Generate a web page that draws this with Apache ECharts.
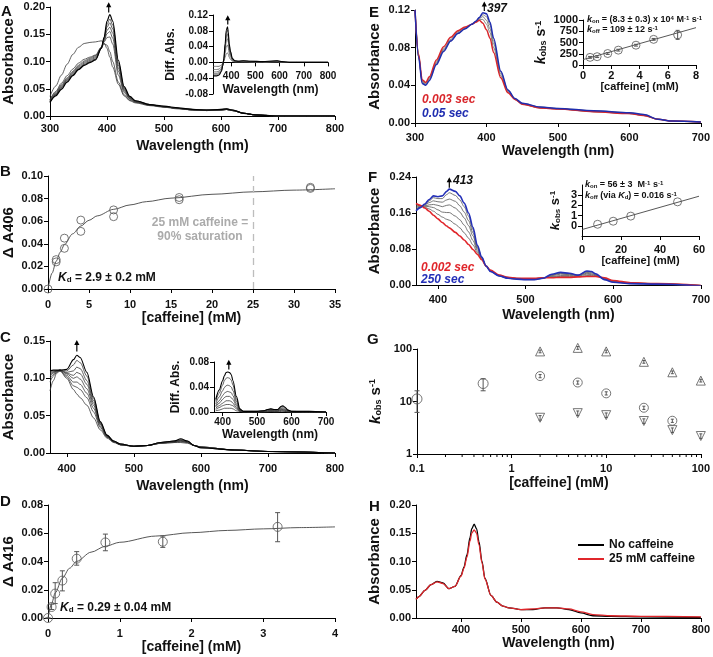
<!DOCTYPE html>
<html><head><meta charset="utf-8">
<script src="https://cdn.jsdelivr.net/npm/echarts@6/dist/echarts.min.js"></script>
<style>html,body{margin:0;padding:0;background:#fff}#c{width:713px;height:657px}</style>
</head><body><div id="c"></div>
<script>
// ---------- Panel A ----------
const wlA = [300,310,320,330,340,350,360,370,380,390,395,400,405,410,420,430,440,450,475,500,525,550,575,600,610,620,640,660,680,700,750,800];
const absA1 = [0.036,0.055,0.075,0.095,0.113,0.126,0.133,0.135,0.136,0.138,0.134,0.124,0.108,0.09,0.058,0.037,0.028,0.024,0.019,0.016,0.013,0.011,0.010,0.011,0.012,0.010,0.005,0.002,0.001,0,0,0];
const absA2 = [0.03,0.045,0.06,0.074,0.086,0.097,0.104,0.108,0.112,0.126,0.132,0.13,0.118,0.1,0.062,0.039,0.029,0.025,0.02,0.017,0.014,0.011,0.010,0.011,0.012,0.010,0.005,0.002,0.001,0,0,0];
const absA3 = [0.03,0.043,0.057,0.07,0.082,0.093,0.101,0.106,0.111,0.126,0.136,0.144,0.145,0.132,0.075,0.043,0.031,0.026,0.02,0.017,0.014,0.011,0.010,0.011,0.012,0.010,0.005,0.002,0.001,0,0,0];
const absA4 = [0.028,0.041,0.055,0.068,0.08,0.091,0.099,0.104,0.109,0.125,0.138,0.151,0.155,0.143,0.082,0.046,0.032,0.026,0.02,0.017,0.014,0.011,0.010,0.011,0.012,0.010,0.005,0.002,0.001,0,0,0];
const absA5 = [0.027,0.04,0.053,0.066,0.078,0.089,0.097,0.102,0.107,0.125,0.14,0.157,0.163,0.152,0.088,0.048,0.033,0.027,0.02,0.017,0.014,0.012,0.011,0.011,0.012,0.010,0.005,0.002,0.001,0,0,0];
const absA6 = [0.026,0.039,0.052,0.065,0.076,0.087,0.095,0.1,0.105,0.124,0.141,0.163,0.171,0.16,0.093,0.05,0.034,0.027,0.021,0.017,0.014,0.012,0.011,0.012,0.013,0.011,0.005,0.002,0.001,0,0,0];
const absA7 = [0.025,0.038,0.05,0.063,0.075,0.086,0.094,0.099,0.104,0.124,0.143,0.168,0.178,0.167,0.097,0.052,0.035,0.028,0.021,0.017,0.014,0.012,0.011,0.012,0.013,0.011,0.005,0.002,0.001,0,0,0];
const absA8 = [0.025,0.037,0.049,0.062,0.074,0.085,0.093,0.098,0.103,0.124,0.145,0.174,0.186,0.174,0.102,0.054,0.036,0.028,0.021,0.018,0.015,0.012,0.011,0.012,0.013,0.011,0.005,0.002,0.001,0,0,0];
// Panel A inset (difference spectra)
const wlAi = [325,340,350,360,365,370,375,380,385,388,392,397,405,415,430,450,480,530,590,610,640,700,800];
const difA1 = [-0.01,-0.01,-0.01,-0.007,-0.003,0.003,0.013,0.022,0.024,0.021,0.013,0.008,0.003,0.001,0.001,0.001,0.001,0,0.001,0,0,0,0];
const difA2 = [-0.018,-0.018,-0.017,-0.012,-0.005,0.005,0.024,0.04,0.044,0.038,0.024,0.014,0.005,0.002,0.002,0.002,0.001,0.001,0.002,0.001,0,0,0];
const difA3 = [-0.024,-0.024,-0.022,-0.016,-0.006,0.007,0.032,0.055,0.06,0.052,0.032,0.019,0.007,0.003,0.002,0.003,0.002,0.001,0.003,0.001,0,0,0];
const difA4 = [-0.028,-0.028,-0.026,-0.019,-0.007,0.008,0.038,0.066,0.072,0.062,0.038,0.023,0.008,0.003,0.003,0.003,0.002,0.001,0.003,0.001,0,0,0];
const difA5 = [-0.031,-0.031,-0.029,-0.021,-0.008,0.009,0.043,0.075,0.082,0.07,0.043,0.026,0.009,0.004,0.003,0.004,0.003,0.002,0.004,0.002,0,0,0];
const difA6 = [-0.034,-0.034,-0.032,-0.023,-0.009,0.01,0.047,0.082,0.09,0.077,0.047,0.028,0.01,0.004,0.003,0.004,0.003,0.002,0.004,0.002,0,0,0];

// ---------- Panel B ----------
const cafB = [0,1,1,2,2,4,4,8,8,16,16,32,32];
const dA406 = [0,0.026,0.024,0.045,0.036,0.061,0.051,0.07,0.064,0.081,0.079,0.09,0.089];
const fitBx = [0,0.5,1,1.5,2,3,4,5,6,8,10,12,15,20,25,30,35];
const fitBy = [0,0.0141,0.0246,0.0327,0.0392,0.0488,0.0557,0.0608,0.0647,0.0705,0.0744,0.0773,0.0804,0.0838,0.0860,0.0875,0.0887];

// ---------- Panel C ----------
const wlC = [375,380,385,390,400,410,415,420,430,440,450,460,470,480,500,520,540,560,570,580,590,600,650,700,800];
const absC1 = [0.083,0.097,0.107,0.11,0.1,0.085,0.079,0.074,0.064,0.047,0.031,0.02,0.014,0.011,0.009,0.01,0.013,0.014,0.014,0.013,0.01,0.008,0.004,0.002,0];
const absC2 = [0.095,0.103,0.108,0.11,0.102,0.09,0.088,0.085,0.074,0.055,0.034,0.021,0.015,0.011,0.009,0.01,0.013,0.014,0.015,0.014,0.01,0.008,0.004,0.002,0];
const absC3 = [0.1,0.105,0.109,0.11,0.104,0.095,0.095,0.092,0.08,0.06,0.036,0.022,0.015,0.011,0.009,0.01,0.013,0.015,0.016,0.014,0.01,0.008,0.004,0.002,0];
const absC4 = [0.103,0.107,0.11,0.111,0.106,0.1,0.102,0.099,0.086,0.064,0.038,0.022,0.015,0.011,0.009,0.01,0.013,0.015,0.016,0.015,0.01,0.008,0.004,0.002,0];
const absC5 = [0.105,0.108,0.11,0.111,0.107,0.104,0.108,0.106,0.092,0.067,0.039,0.023,0.015,0.012,0.009,0.01,0.014,0.015,0.017,0.015,0.01,0.008,0.004,0.002,0];
const absC6 = [0.107,0.109,0.11,0.111,0.108,0.11,0.115,0.113,0.097,0.07,0.04,0.023,0.016,0.012,0.009,0.01,0.014,0.016,0.017,0.015,0.01,0.007,0.004,0.002,0];
const absC7 = [0.109,0.11,0.11,0.111,0.11,0.118,0.124,0.121,0.103,0.073,0.041,0.024,0.016,0.012,0.009,0.01,0.014,0.016,0.018,0.016,0.01,0.007,0.004,0.002,0];
const absC8 = [0.11,0.111,0.111,0.111,0.112,0.125,0.131,0.128,0.108,0.075,0.042,0.024,0.016,0.012,0.009,0.01,0.014,0.016,0.019,0.016,0.01,0.007,0.004,0.002,0];
// Panel C inset
const wlCi = [380,390,400,405,410,415,420,425,430,440,450,460,480,500,520,530,540,550,560,570,575,580,590,600,650,700];
const difC1 = [0.002,0.003,0.005,0.006,0.006,0.006,0.006,0.006,0.005,0.002,0.001,0,0,0,0,0,0.001,0,0,0.001,0.001,0.001,0,0,0,0];
const difC2 = [0.004,0.007,0.01,0.011,0.012,0.012,0.012,0.011,0.01,0.005,0.001,0,0,0,0,0.001,0.001,0.001,0.001,0.002,0.002,0.001,0,0,0,0];
const difC3 = [0.006,0.01,0.014,0.016,0.018,0.018,0.018,0.017,0.014,0.007,0.002,0,0,0,0.001,0.001,0.002,0.001,0.001,0.003,0.003,0.002,0.001,0,0,0];
const difC4 = [0.008,0.014,0.02,0.023,0.025,0.025,0.025,0.023,0.02,0.01,0.002,0.001,0,0,0.001,0.002,0.002,0.002,0.002,0.004,0.004,0.003,0.001,0,0,0];
const difC5 = [0.01,0.018,0.026,0.03,0.032,0.033,0.032,0.031,0.026,0.013,0.003,0.001,0.001,0.001,0.001,0.003,0.003,0.003,0.003,0.005,0.005,0.004,0.002,0.001,0,0];
const difC6 = [0.013,0.024,0.034,0.039,0.042,0.043,0.042,0.04,0.034,0.017,0.003,0.001,0.001,0.001,0.002,0.003,0.004,0.003,0.003,0.006,0.007,0.005,0.002,0.001,0,0];
const difC7 = [0.017,0.03,0.043,0.05,0.054,0.055,0.054,0.051,0.043,0.021,0.004,0.001,0.001,0.001,0.002,0.004,0.005,0.004,0.004,0.008,0.009,0.007,0.003,0.001,0.001,0];
const difC8 = [0.02,0.035,0.05,0.058,0.063,0.064,0.063,0.06,0.05,0.025,0.005,0.001,0.001,0.001,0.002,0.004,0.005,0.004,0.004,0.009,0.01,0.008,0.003,0.001,0.001,0];

// ---------- Panel D ----------
const cafD = [0,0.05,0.1,0.2,0.4,0.8,1.6,3.2];
const dA416 = [0,0.0078,0.0173,0.0265,0.042,0.0535,0.054,0.0645];
const dA416lo = [0,0.006,0.0102,0.0192,0.0374,0.0476,0.05,0.054];
const dA416hi = [0,0.0098,0.025,0.0334,0.047,0.0594,0.058,0.0746];
const fitDx = [0,0.05,0.1,0.2,0.3,0.4,0.6,0.8,1,1.5,2,2.5,3,3.5,4];
const fitDy = [0,0.0102,0.0177,0.0282,0.0352,0.0401,0.0466,0.0508,0.0536,0.058,0.0604,0.062,0.0631,0.064,0.0645];

// ---------- Panel E ----------
const wlE = [300,305,310,315,320,330,340,350,360,370,380,385,390,395,400,405,410,420,430,440,450,475,500,550,600,620,640,660,700];
const absE003 = [0.12,0.073,0.046,0.043,0.049,0.067,0.081,0.091,0.098,0.102,0.105,0.107,0.109,0.106,0.099,0.09,0.075,0.048,0.032,0.025,0.02,0.016,0.015,0.012,0.01,0.008,0.004,0.002,0.001];
const absEg1 = [0.12,0.072,0.045,0.042,0.048,0.065,0.079,0.089,0.097,0.101,0.105,0.107,0.11,0.11,0.105,0.096,0.08,0.05,0.033,0.025,0.02,0.016,0.015,0.012,0.01,0.008,0.004,0.002,0.001];
const absEg2 = [0.12,0.071,0.044,0.041,0.047,0.064,0.078,0.088,0.096,0.1,0.105,0.107,0.111,0.113,0.109,0.1,0.084,0.052,0.034,0.025,0.02,0.016,0.015,0.012,0.01,0.008,0.004,0.002,0.001];
const absEg3 = [0.12,0.071,0.043,0.04,0.046,0.063,0.077,0.087,0.095,0.1,0.105,0.108,0.112,0.115,0.113,0.104,0.087,0.054,0.035,0.026,0.021,0.017,0.0155,0.013,0.011,0.009,0.004,0.002,0.001];
const absE05 = [0.12,0.07,0.042,0.04,0.045,0.062,0.076,0.087,0.095,0.1,0.105,0.108,0.112,0.117,0.116,0.107,0.09,0.055,0.035,0.026,0.021,0.017,0.0155,0.013,0.011,0.009,0.004,0.002,0.001];
// Panel E inset
const cafEi = [0.5,1,1.75,2.5,3.75,5,6.7];
const kobsEi = [170,185,255,330,440,570,670];
const kobsEiLo = [150,165,235,310,420,550,570];
const kobsEiHi = [190,205,275,350,460,590,770];
const fitEix = [0,8];
const fitEiy = [120,830];

// ---------- Panel F ----------
const wlF = [375,380,385,390,395,400,405,410,413,420,425,430,435,440,445,450,455,460,470,480,490,500,510,520,530,540,550,560,570,575,580,590,600,620,650,700];
const absF002 = [0.181,0.177,0.171,0.164,0.155,0.147,0.139,0.131,0.127,0.117,0.109,0.100,0.090,0.079,0.068,0.056,0.042,0.033,0.022,0.017,0.015,0.015,0.015,0.016,0.016,0.017,0.017,0.018,0.019,0.019,0.019,0.016,0.010,0.005,0.003,-0.001];
const absFg1 = [0.178,0.176,0.173,0.169,0.164,0.157,0.151,0.146,0.144,0.135,0.127,0.116,0.104,0.089,0.072,0.057,0.042,0.032,0.022,0.017,0.015,0.014,0.014,0.016,0.018,0.019,0.019,0.019,0.021,0.021,0.020,0.015,0.009,0.005,0.003,-0.001];
const absFg2 = [0.175,0.175,0.175,0.174,0.172,0.167,0.162,0.161,0.161,0.153,0.145,0.133,0.118,0.099,0.076,0.058,0.042,0.032,0.021,0.016,0.014,0.014,0.014,0.016,0.019,0.021,0.021,0.020,0.024,0.023,0.021,0.014,0.008,0.004,0.003,-0.001];
const absFg3 = [0.172,0.174,0.176,0.178,0.179,0.177,0.174,0.177,0.178,0.171,0.162,0.149,0.132,0.109,0.080,0.060,0.042,0.031,0.021,0.016,0.014,0.013,0.013,0.015,0.021,0.024,0.023,0.021,0.026,0.025,0.022,0.013,0.008,0.004,0.002,-0.001];
const absFg4 = [0.169,0.173,0.178,0.183,0.187,0.185,0.184,0.189,0.191,0.186,0.176,0.162,0.143,0.116,0.083,0.061,0.042,0.031,0.020,0.015,0.013,0.013,0.013,0.015,0.022,0.026,0.024,0.021,0.028,0.027,0.023,0.013,0.007,0.004,0.002,-0.002];
const absFg5 = [0.167,0.172,0.179,0.187,0.194,0.192,0.192,0.201,0.205,0.199,0.189,0.174,0.153,0.123,0.086,0.062,0.042,0.030,0.020,0.015,0.013,0.012,0.012,0.015,0.023,0.027,0.025,0.022,0.030,0.029,0.024,0.012,0.007,0.003,0.002,-0.002];
const absF250 = [0.165,0.172,0.180,0.190,0.198,0.196,0.198,0.208,0.213,0.208,0.198,0.182,0.160,0.128,0.088,0.062,0.042,0.030,0.020,0.015,0.013,0.012,0.012,0.015,0.024,0.028,0.026,0.022,0.031,0.030,0.025,0.012,0.006,0.003,0.002,-0.002];
// Panel F inset
const cafFi = [8,16,25,49];
const kobsFi = [0.15,0.45,0.95,2.35];
const fitFix = [0,60];
const fitFiy = [-0.37,2.9];

// ---------- Panel G ----------
const cafG1 = [0.1,0.5];
const kG1 = [11.2,22];
const kG1lo = [6.2,16];
const kG1hi = [16,27];
const cafGup = [2,5,10,25,50,100];
const kGup = [90,105,90,57,36,25];
const cafGmid = [2,5,10,25,50];
const kGmid = [30.5,23,14.3,7.6,4.3];
const cafGdn = [2,5,10,25,50,100];
const kGdn = [4.9,6.0,5.5,4.25,2.85,2.2];
const gMinorTicks = [0.2,0.3,0.4,0.5,0.6,0.7,0.8,0.9,2,3,4,5,6,7,8,9,20,30,40,50,60,70,80,90];

// ---------- Panel H ----------
const wlH = [325,330,340,350,360,370,380,390,400,405,410,415,418,422,426,430,435,440,450,460,470,480,500,520,540,560,580,600,620,650,700,800];
const absHno = [0.033,0.038,0.049,0.059,0.065,0.062,0.052,0.056,0.075,0.09,0.112,0.142,0.158,0.166,0.158,0.135,0.1,0.07,0.04,0.028,0.021,0.018,0.015,0.015,0.018,0.018,0.015,0.009,0.004,0.003,0.002,0.001];
const absH25 = [0.033,0.038,0.049,0.059,0.064,0.061,0.052,0.056,0.074,0.088,0.108,0.136,0.15,0.156,0.15,0.13,0.098,0.069,0.04,0.028,0.021,0.018,0.015,0.016,0.018,0.018,0.016,0.011,0.006,0.004,0.003,0.002];

// ================= chart =================
const FONT = '"Liberation Sans", Arial, sans-serif';
const chart = echarts.init(document.getElementById('c'), null, {renderer:'canvas'});
const zip = (xs, ys) => xs.map((x, i) => [x, ys[i]]);

const grids = [
  {left:47, top:7, width:288, height:109},    //0 A
  {left:213, top:15, width:115, height:79},   //1 A inset
  {left:47, top:176, width:288, height:113},  //2 B
  {left:47, top:341, width:288, height:112},  //3 C
  {left:214, top:362, width:112, height:50},  //4 C inset
  {left:47, top:505, width:288, height:113},  //5 D
  {left:415, top:10, width:288, height:113},  //6 E
  {left:583, top:20, width:113, height:45},   //7 E inset
  {left:416, top:177, width:287, height:108}, //8 F
  {left:582, top:185, width:117, height:51},  //9 F inset
  {left:417, top:349, width:286, height:105}, //10 G
  {left:416, top:505, width:287, height:113}  //11 H
];

const kRich = (fs) => ({
  k:{fontStyle:'italic', fontWeight:'bold', fontSize:fs, fontFamily:FONT, color:'#111'},
  n:{fontWeight:'bold', fontSize:fs, fontFamily:FONT, color:'#111'},
  sub:{fontWeight:'bold', fontSize:Math.round(fs*0.62), fontFamily:FONT, color:'#111', verticalAlign:'bottom'},
  sup:{fontWeight:'bold', fontSize:Math.round(fs*0.62), fontFamily:FONT, color:'#111', verticalAlign:'top'}
});

function axis(g, o) {
  const lf = o.lf || 11, nf = o.nf || 14;
  const ax = {
    type: o.type || 'value', gridIndex: g, min: o.min, max: o.max,
    name: o.name, nameLocation: 'middle', nameGap: o.gap,
    nameTextStyle: {fontFamily: FONT, fontWeight: 'bold', fontSize: nf, color: '#111', rich: o.rich},
    axisLine: {show: true, onZero: false, lineStyle: {color: '#000', width: 1}},
    axisTick: {show: true, length: o.tl || 4, lineStyle: {color: '#000', width: 1}},
    axisLabel: {fontFamily: FONT, fontWeight: 'bold', fontSize: lf, color: '#111', margin: o.margin || 5,
      formatter: o.fmt},
    splitLine: {show: false}
  };
  if (o.offset !== undefined) ax.offset = o.offset;
  if (o.interval !== undefined) ax.interval = o.interval;
  if (o.custom) { ax.axisLabel.customValues = o.custom; ax.axisTick.customValues = o.custom; }
  if (o.type === 'log') { ax.logBase = 10; }
  return ax;
}
const f2 = v => v.toFixed(2);
const fi = v => String(v);

const xAxes = [
  axis(0, {min:300, max:800, interval:100, name:'Wavelength (nm)', gap:23, margin:7}),
  axis(1, {min:325, max:800, custom:[400,500,600,700,800], name:'Wavelength (nm)', gap:21, margin:9, lf:10, nf:12, offset:-31.6}),
  axis(2, {min:0, max:35, interval:5, name:'[caffeine] (mM)', gap:19, margin:10}),
  axis(3, {min:375, max:800, custom:[400,500,600,700,800], name:'Wavelength (nm)', gap:26, margin:10}),
  axis(4, {min:375, max:700, custom:[400,500,600,700], name:'Wavelength (nm)', gap:17, lf:10, nf:12}),
  axis(5, {min:0, max:4, interval:1, name:'[caffeine] (mM)', gap:21, margin:10}),
  axis(6, {min:300, max:700, interval:100, name:'Wavelength (nm)', gap:20, margin:9}),
  axis(7, {min:0, max:8, interval:2, name:'[caffeine] (mM)', gap:14, lf:11, nf:11}),
  axis(8, {min:375, max:700, custom:[400,500,600,700], name:'Wavelength (nm)', gap:23, margin:9}),
  axis(9, {min:0, max:60, interval:20, name:'[caffeine] (mM)', gap:18, margin:8, lf:11, nf:11}),
  axis(10, {type:'log', min:0.1, max:100, name:'[caffeine] (mM)', gap:22, margin:9, fmt:fi}),
  axis(11, {min:325, max:800, custom:[400,500,600,700,800], name:'Wavelength (nm)', gap:15, margin:6})
];
const yAxes = [
  axis(0, {min:0, max:0.2, interval:0.05, fmt:f2, name:'Absorbance', gap:34, nf:15}),
  axis(1, {min:-0.08, max:0.12, interval:0.04, fmt:f2, name:'Diff. Abs.', gap:36, lf:10, nf:12}),
  axis(2, {min:0, max:0.1, interval:0.02, fmt:f2, name:'Δ A406', gap:32, nf:15}),
  axis(3, {min:0, max:0.15, interval:0.05, fmt:f2, name:'Absorbance', gap:34, nf:15}),
  axis(4, {min:0, max:0.08, interval:0.04, fmt:f2, name:'Diff. Abs.', gap:32, lf:10, nf:12}),
  axis(5, {min:0, max:0.08, interval:0.02, fmt:f2, name:'Δ A416', gap:32, nf:15}),
  axis(6, {min:0, max:0.12, interval:0.04, fmt:f2, name:'Absorbance', gap:33, nf:15}),
  axis(7, {min:0, max:1000, interval:250, fmt:fi, name:'{k|k}{sub|obs}{n| s}{sup|-1}', gap:35, lf:11, rich:kRich(14)}),
  axis(8, {min:0, max:0.24, interval:0.08, fmt:f2, name:'Absorbance', gap:34, nf:15}),
  axis(9, {min:-1, max:4, interval:1, fmt:fi, name:'{k|k}{sub|obs}{n| s}{sup|-1}', gap:20, lf:11, rich:kRich(13)}),
  axis(10, {type:'log', min:1, max:100, name:'{k|k}{sub|obs}{n| s}{sup|-1}', gap:34, fmt:fi, rich:kRich(15)}),
  axis(11, {min:0, max:0.2, interval:0.05, fmt:f2, name:'Absorbance', gap:34, nf:15})
];

const series = [];
function line(g, xs, ys, color, width, extra) {
  series.push(Object.assign({type:'line', xAxisIndex:g, yAxisIndex:g, data:zip(xs, ys), symbol:'none',
    smooth:0.3, smoothMonotone:'x', lineStyle:{color, width}, itemStyle:{color}, silent:true, animation:false, z:2}, extra || {}));
}
function scatter(g, xs, ys, symbol, size, extra) {
  series.push(Object.assign({type:'scatter', xAxisIndex:g, yAxisIndex:g, data:zip(xs, ys), symbol, symbolSize:size, clip:false,
    itemStyle:{color:'rgba(0,0,0,0)', borderColor:'#555', borderWidth:1}, silent:true, animation:false, z:4}, extra || {}));
}
function errbars(g, xs, lo, hi, color, cap) {
  series.push({type:'custom', xAxisIndex:g, yAxisIndex:g, silent:true, animation:false, z:3, clip:false,
    data: xs.map((x, i) => [x, lo[i], hi[i]]),
    encode:{x:0, y:[1,2]},
    renderItem:(params, api) => {
      const x = api.value(0), a = api.coord([x, api.value(1)]), b = api.coord([x, api.value(2)]);
      const w = cap, st = {stroke:color, lineWidth:1};
      return {type:'group', children:[
        {type:'line', shape:{x1:a[0], y1:a[1], x2:b[0], y2:b[1]}, style:st},
        {type:'line', shape:{x1:a[0]-w, y1:a[1], x2:a[0]+w, y2:a[1]}, style:st},
        {type:'line', shape:{x1:b[0]-w, y1:b[1], x2:b[0]+w, y2:b[1]}, style:st}
      ]};
    }});
}

// A
[absA1,absA2,absA3,absA4,absA5,absA6,absA7].forEach(d => line(0, wlA, d, '#3a3a3a', 0.8));
line(0, wlA, absA8, '#000', 1.2);
[difA1,difA2,difA3,difA4,difA5].forEach(d => line(1, wlAi, d, '#555', 0.8));
line(1, wlAi, difA6, '#000', 1.1);
// B
line(2, fitBx, fitBy, '#444', 0.9, {markLine:{silent:true, symbol:'none', animation:false,
  label:{show:false}, lineStyle:{type:[7,5], color:'#bdbdbd', width:1.3},
  data:[[{coord:[25,0]},{coord:[25,0.1]}]]}});
scatter(2, cafB, dA406, 'circle', 8);
// C
[absC1,absC2,absC3,absC4,absC5,absC6,absC7].forEach(d => line(3, wlC, d, '#3a3a3a', 0.8));
line(3, wlC, absC8, '#000', 1.1);
[difC1,difC2,difC3,difC4,difC5,difC6,difC7].forEach(d => line(4, wlCi, d, '#3a3a3a', 0.8));
line(4, wlCi, difC8, '#000', 1.1);
// D
line(5, fitDx, fitDy, '#444', 0.9);
errbars(5, cafD, dA416lo, dA416hi, '#555', 2.5);
scatter(5, cafD, dA416, 'circle', 9);
// E
line(6, wlE, absE003, '#d9262b', 1.5, {z:3});
[absEg1,absEg2,absEg3].forEach(d => line(6, wlE, d, '#777', 0.9));
line(6, wlE, absE05, '#1f2db0', 1.5, {z:4});
line(7, fitEix, fitEiy, '#444', 0.9, {smooth:false});
errbars(7, cafEi, kobsEiLo, kobsEiHi, '#555', 2);
scatter(7, cafEi, kobsEi, 'circle', 8);
// F
line(8, wlF, absF002, '#e0262b', 1.6, {z:3});
[absFg1,absFg2,absFg3,absFg4,absFg5].forEach(d => line(8, wlF, d, '#666', 0.9));
line(8, wlF, absF250, '#2430b8', 1.6, {z:4});
line(9, fitFix, fitFiy, '#444', 0.9, {smooth:false});
scatter(9, cafFi, kobsFi, 'circle', 8);
// G
series.push({type:'custom', xAxisIndex:10, yAxisIndex:10, silent:true, animation:false, clip:false, z:5,
  data: gMinorTicks.map(v => [v, 1]), encode:{x:0, y:1},
  renderItem:(params, api) => {
    const c = api.coord([api.value(0), api.value(1)]);
    return {type:'line', shape:{x1:c[0], y1:c[1], x2:c[0], y2:c[1]+3}, style:{stroke:'#000', lineWidth:1}};
  }});
errbars(10, cafG1, kG1lo, kG1hi, '#555', 2.5);
scatter(10, cafG1, kG1, 'circle', 10);
errbars(10, cafGup, kGup.map(v => v*0.94), kGup.map(v => v*1.06), '#555', 1.5);
scatter(10, cafGup, kGup, 'triangle', 9);
errbars(10, cafGmid, kGmid.map(v => v*0.93), kGmid.map(v => v*1.07), '#555', 1.5);
scatter(10, cafGmid, kGmid, 'circle', 9);
errbars(10, cafGdn, kGdn.map(v => v*0.9), kGdn.map(v => v*1.1), '#555', 1.5);
scatter(10, cafGdn, kGdn, 'triangle', 9, {symbolRotate:180});
// H
line(11, wlH, absHno, '#000', 1.3, {name:'No caffeine', z:3});
line(11, wlH, absH25, '#e0262b', 1.3, {name:'25 mM caffeine', z:4});

chart.setOption({
  animation:false,
  backgroundColor:'#fff',
  grid: grids.map(g => Object.assign({containLabel:false}, g)),
  xAxis: xAxes, yAxis: yAxes, series,
  legend:{show:true, data:['No caffeine','25 mM caffeine'], orient:'vertical', left:573, top:534,
    itemWidth:26, itemHeight:2, icon:'rect', itemGap:2,
    textStyle:{fontFamily:FONT, fontWeight:'bold', fontSize:12, color:'#111'}}
});

// ---------- annotations ----------
const G = [];
const P = (g, pt) => chart.convertToPixel({xAxisIndex:g, yAxisIndex:g}, pt);
function arrow(g, x, y1, y2) {
  const a = P(g, [x, y1]), b = P(g, [x, y2]);
  G.push({type:'line', silent:true, shape:{x1:a[0], y1:a[1], x2:b[0], y2:b[1]+3}, style:{stroke:'#000', lineWidth:1.2}});
  G.push({type:'polygon', silent:true, shape:{points:[[b[0]-2.6, b[1]+4], [b[0]+2.6, b[1]+4], [b[0], b[1]-1]]}, style:{fill:'#000'}});
}
function text(x, y, t, o) {
  o = o || {};
  G.push({type:'text', silent:true, x, y, style:{text:t, fill:o.color || '#111',
    font:(o.style || '') + ' bold ' + (o.size || 12) + 'px ' + FONT,
    align:o.align || 'left', verticalAlign:o.va || 'middle', rich:o.rich}});
}
const R = (fs, col) => ({
  k:{fontStyle:'italic', fontWeight:'bold', fontSize:fs, fontFamily:FONT, fill:col || '#111'},
  n:{fontWeight:'bold', fontSize:fs, fontFamily:FONT, fill:col || '#111'},
  sub:{fontWeight:'bold', fontSize:Math.round(fs*0.65), fontFamily:FONT, fill:col || '#111', verticalAlign:'bottom'},
  sup:{fontWeight:'bold', fontSize:Math.round(fs*0.65), fontFamily:FONT, fill:col || '#111', verticalAlign:'top'}
});

// letters
[['A',1,12],['B',0,172],['C',0,338],['D',0,502],['E',369,13],['F',368,178],['G',367,340],['H',369,507]]
  .forEach(([l, x, y]) => text(x, y, l, {size:15}));

arrow(0, 403, 0.19, 0.207);
arrow(1, 386, 0.096, 0.117);
arrow(3, 415, 0.136, 0.15);
arrow(4, 418, 0.068, 0.082);
arrow(6, 397, 0.119, 0.128);
arrow(8, 413, 0.216, 0.237);
text(487, 9, '397', {style:'italic', size:12});
text(453, 181, '413', {style:'italic', size:12});

text(200, 223, '25 mM caffeine =', {align:'center', color:'#ababab', size:12});
text(200, 237, '90% saturation', {align:'center', color:'#ababab', size:12});
text(58, 278, '{k|K}{sub|d}{n| = 2.9 ± 0.2 mM}', {rich:R(12)});
text(60, 608, '{k|K}{sub|d}{n| = 0.29 ± 0.04 mM}', {rich:R(12)});

text(422, 100, '0.003 sec', {style:'italic', size:12, color:'#d9262b'});
text(422, 114, '0.05 sec', {style:'italic', size:12, color:'#1f2db0'});
text(421, 268, '0.002 sec', {style:'italic', size:12, color:'#e0262b'});
text(421, 280, '250 sec', {style:'italic', size:12, color:'#2430b8'});

text(587, 20, '{k|k}{sub|on}{n| = (8.3 ± 0.3) x 10}{sup|4}{n| M}{sup|-1}{n| s}{sup|-1}', {rich:R(9)});
text(587, 30, '{k|k}{sub|off}{n| = 109 ± 12 s}{sup|-1}', {rich:R(9)});
text(585, 185, '{k|k}{sub|on}{n| = 56 ± 3  M}{sup|-1}{n| s}{sup|-1}', {rich:R(9)});
text(585, 196, '{k|k}{sub|off}{n| (via }{k|K}{sub|d}{n|) = 0.016 s}{sup|-1}', {rich:R(9)});

chart.setOption({graphic: G});
</script></body></html>
